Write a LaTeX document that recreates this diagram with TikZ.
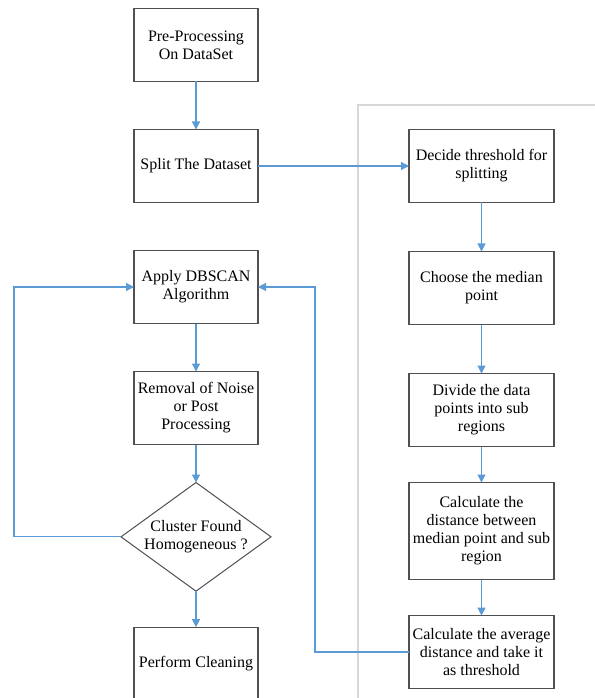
\documentclass[tikz,border=0pt]{standalone}
\usepackage{fontspec}
\setmainfont{Liberation Serif}
\usepackage{xcolor}
\definecolor{flowblue}{RGB}{91, 155, 213}
\definecolor{boxgray}{RGB}{80, 80, 80}
\definecolor{panelgray}{RGB}{215, 215, 215}
\usepackage{tikz}
\usetikzlibrary{
    shapes.geometric,
    arrows.meta,
    positioning
}
\tikzstyle{process} = [
    rectangle,
    draw=boxgray,
    line width=0.9pt,
    outer sep=0pt,
    fill=white,
    align=center,
    inner sep=2pt,
    minimum height=54.75pt,
    font=\fontsize{12}{13.5}\selectfont
]
\tikzstyle{arrow} = [
    -{Triangle[width=6pt,length=6pt]},
    draw=flowblue,
    line width=0.9pt
]

\begin{document}
\begin{tikzpicture}[
    x=0.75pt, y=-0.75pt,
    leftbox/.style={process, minimum width=93pt},
    rightbox/.style={process, minimum width=108.75pt},
    decision/.style={diamond, draw=boxgray, line width=0.75pt, outer sep=0pt, fill=white, align=center, inner sep=0pt, aspect=1.36, minimum width=112.5pt, font=\fontsize{12}{13.5}\selectfont},
    panel/.style={draw=panelgray, line width=0.8pt}
]
    \useasboundingbox (0,0) rectangle (594,698);

    % Right panel frame
    \draw[panel] (358,105) rectangle (620,730);

    % Left column
    \node[leftbox] (pre) at (196,45) {Pre-Processing\\On DataSet};
    \node[leftbox, below=36pt of pre] (split) {Split The Dataset};
    \node[leftbox, below=36pt of split] (dbscan) {Apply DBSCAN\\Algorithm};
    \node[leftbox, below=36pt of dbscan] (noise) {Removal of Noise\\or Post\\Processing};
    \node[decision, below=28.5pt of noise] (check) {Cluster Found\\Homogeneous ?};
    \node[leftbox, below=27pt of check] (clean) {Perform Cleaning};

    % Right column
    \node[rightbox, right=113.25pt of split] (decide) {Decide threshold for\\splitting};
    \node[rightbox, below=36.75pt of decide] (median) {Choose the median\\point};
    \node[rightbox, below=36.75pt of median] (divide) {Divide the data\\points into sub\\regions};
    \node[rightbox, below=27pt of divide, minimum height=72.75pt] (dist) {Calculate the\\distance between\\median point and sub\\region};
    \node[rightbox, below=27pt of dist] (avg) {Calculate the average\\distance and take it\\as threshold};

    % Arrows
    \draw[arrow] (pre) -- (split);
    \draw[arrow] (split) -- (decide);
    \draw[arrow] (dbscan) -- (noise);
    \draw[arrow] (noise) -- (check);
    \draw[arrow] (check) -- (clean);
    \draw[arrow] (decide) -- (median);
    \draw[arrow] (median) -- (divide);
    \draw[arrow] (divide) -- (dist);
    \draw[arrow] (dist) -- (avg);

    % Feedback loops
    \draw[arrow] (check.west) -- ++(-107,0) |- (dbscan.west);
    \draw[arrow] (avg.west) -- ++(-94,0) |- (dbscan.east);

\end{tikzpicture}
\end{document}
